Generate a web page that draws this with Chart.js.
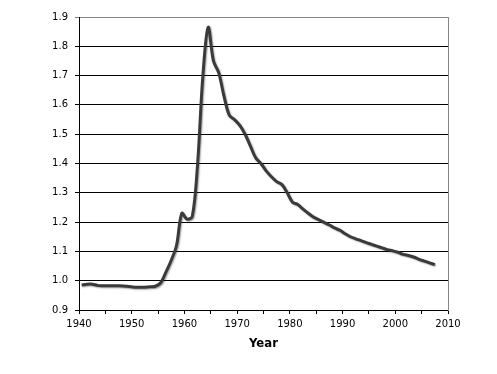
<!DOCTYPE html>
<html>
<head>
<meta charset="utf-8">
<script src="https://cdn.jsdelivr.net/npm/chart.js@4/dist/chart.umd.min.js"></script>
<style>
  html, body { margin: 0; padding: 0; background: #fff; }
  #wrap { width: 497px; height: 374px; }
</style>
</head>
<body>
<div id="wrap"><canvas id="chart" width="497" height="374"></canvas></div>
<script>
// mid-year points
const years = [
  1940.5, 1941.5, 1942.5, 1943.5, 1944.5, 1945.5, 1946.5, 1947.5, 1948.5, 1949.5,
  1950.5, 1951.5, 1952.5, 1953.5, 1954.5, 1955.5, 1956.5, 1957.5, 1958.5, 1959.5,
  1960.5, 1961.5, 1962.5, 1963.5, 1964.5, 1965.5, 1966.5, 1967.5, 1968.5, 1969.5,
  1970.5, 1971.5, 1972.5, 1973.5, 1974.5, 1975.5, 1976.5, 1977.5, 1978.5, 1979.5,
  1980.5, 1981.5, 1982.5, 1983.5, 1984.5, 1985.5, 1986.5, 1987.5, 1988.5, 1989.5,
  1990.5, 1991.5, 1992.5, 1993.5, 1994.5, 1995.5, 1996.5, 1997.5, 1998.5, 1999.5,
  2000.5, 2001.5, 2002.5, 2003.5, 2004.5, 2005.5, 2006.5, 2007.5
];
const values = [
  0.985, 0.988, 0.988, 0.984, 0.983, 0.983, 0.983, 0.983, 0.982, 0.980,
  0.978, 0.978, 0.978, 0.979, 0.981, 0.993, 1.030, 1.070, 1.120, 1.230,
  1.210, 1.220, 1.400, 1.700, 1.865, 1.750, 1.710, 1.630, 1.565, 1.550,
  1.530, 1.500, 1.460, 1.420, 1.400, 1.375, 1.355, 1.338, 1.328, 1.300,
  1.268, 1.260, 1.244, 1.230, 1.217, 1.208, 1.199, 1.190, 1.180, 1.172,
  1.160, 1.150, 1.143, 1.137, 1.130, 1.124, 1.118, 1.112, 1.106, 1.102,
  1.097, 1.090, 1.086, 1.081, 1.073, 1.067, 1.061, 1.055
];
const yTicks = [0.9, 1.0, 1.1, 1.2, 1.3, 1.4, 1.5, 1.6, 1.7, 1.8, 1.9];
const xTicks = [1940, 1950, 1960, 1970, 1980, 1990, 2000, 2010];

const FONT = "'DejaVu Sans', Verdana, sans-serif";

// soft shadow under the line, like the office chart
const lineShadow = {
  id: 'lineShadow',
  beforeDatasetsDraw(chart) {
    const c = chart.ctx;
    c.save();
    c.shadowColor = 'rgba(0,0,0,0.35)';
    c.shadowOffsetX = 1;
    c.shadowOffsetY = 1;
    c.shadowBlur = 1.5;
  },
  afterDatasetsDraw(chart) {
    chart.ctx.restore();
  }
};

new Chart(document.getElementById('chart'), {
  type: 'line',
  data: {
    datasets: [{
      label: 'Ratio',
      data: years.map((y, i) => ({ x: y, y: values[i] })),
      borderColor: '#3a3a3a',
      borderWidth: 3,
      pointRadius: 0,
      tension: 0.35,
      fill: false
    }]
  },
  plugins: [lineShadow],
  options: {
    responsive: false,
    animation: false,
    layout: { padding: { left: 0, right: 49, top: 17, bottom: 0 } },
    plugins: {
      legend: { display: false },
      tooltip: { enabled: false }
    },
    scales: {
      x: {
        type: 'linear',
        min: 1940,
        max: 2010,
        afterFit: (s) => { s.height = 64; },
        ticks: {
          stepSize: 5,
          autoSkip: false,
          maxRotation: 0,
          padding: 4,
          color: '#000',
          font: { family: FONT, size: 10 },
          callback: (v) => xTicks.includes(v) ? String(v) : ''
        },
        grid: {
          drawOnChartArea: false,
          drawTicks: true,
          tickLength: 4,
          color: '#000'
        },
        border: { color: '#000', width: 1 },
        title: {
          display: true,
          text: 'Year',
          color: '#000',
          font: { family: "'DejaVu Sans Condensed', 'DejaVu Sans', sans-serif", size: 13, weight: 'bold' },
          padding: { top: 6, bottom: 23 }
        }
      },
      y: {
        min: 0.9,
        max: 1.9,
        afterFit: (s) => { s.width = 79; },
        afterBuildTicks: (s) => { s.ticks = yTicks.map(v => ({ value: v })); },
        ticks: {
          padding: 7,
          color: '#000',
          font: { family: FONT, size: 10 },
          callback: (v) => Number(v).toFixed(1)
        },
        grid: {
          tickLength: 4,
          color: (ctx) => (ctx.tick && ctx.tick.value > 1.85) ? '#868686' : '#000'
        },
        border: { color: '#000', width: 1 }
      },
      yRight: {
        position: 'right',
        min: 0.9,
        max: 1.9,
        afterFit: (s) => { s.width = 0; },
        ticks: { display: false },
        grid: { drawOnChartArea: false, drawTicks: false },
        border: { color: '#868686', width: 1 }
      }
    }
  }
});
</script>
</body>
</html>
